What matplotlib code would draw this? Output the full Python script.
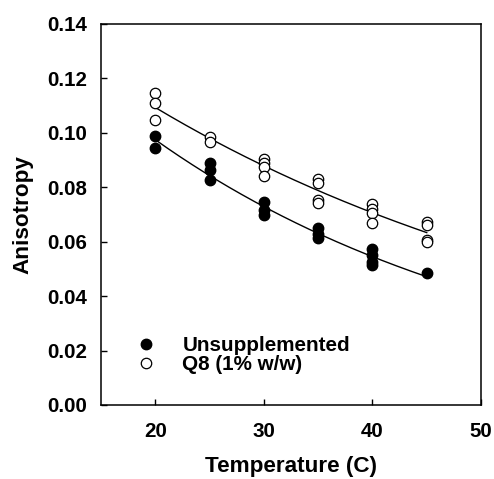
import numpy as np
import matplotlib
matplotlib.use("Agg")
import matplotlib.pyplot as plt

plt.rcParams['font.family'] = ['Liberation Sans', 'DejaVu Sans']
plt.rcParams['font.weight'] = 'bold'

# Data
unsup_T = [20, 20, 25, 25, 25, 30, 30, 30, 35, 35, 35, 40, 40, 40, 40, 45]
unsup_A = [0.0988, 0.0945, 0.0890, 0.0862, 0.0828, 0.0747, 0.0717, 0.0697,
           0.0649, 0.0627, 0.0613, 0.0574, 0.0551, 0.0527, 0.0515, 0.0485]

q8_T = [20, 20, 20, 25, 25, 30, 30, 30, 30, 35, 35, 35, 35, 40, 40, 40, 40, 45, 45, 45, 45]
q8_A = [0.1146, 0.1111, 0.1047, 0.0984, 0.0966, 0.0905, 0.0888, 0.0874, 0.0840,
        0.0829, 0.0815, 0.0755, 0.0742, 0.0738, 0.0722, 0.0705, 0.0670,
        0.0673, 0.0662, 0.0608, 0.0600]

labels = ["Unsupplemented", "Q8 (1% w/w)"]
xticks = [20, 30, 40, 50]
yticks = [0.00, 0.02, 0.04, 0.06, 0.08, 0.10, 0.12, 0.14]

fig = plt.figure(figsize=(4.94, 4.79), dpi=100)
ax = fig.add_axes([0.2045, 0.1545, 0.7692, 0.7954])

def exp_fit(T, A):
    T = np.asarray(T, float); A = np.asarray(A, float)
    b, a = np.polyfit(T, np.log(A), 1)
    xs = np.linspace(min(T), max(T), 200)
    return xs, np.exp(a + b * xs)

for T, A in [(unsup_T, unsup_A), (q8_T, q8_A)]:
    xs, ys = exp_fit(T, A)
    ax.plot(xs, ys, color='black', lw=1.0, zorder=1)

ax.plot(unsup_T, unsup_A, 'o', ms=7.5, mfc='black', mec='black', mew=1.0,
        ls='none', label=labels[0], zorder=3)
ax.plot(q8_T, q8_A, 'o', ms=7.5, mfc='white', mec='black', mew=0.9,
        ls='none', label=labels[1], zorder=3)

ax.set_xlim(15, 50)
ax.set_ylim(0, 0.14)
ax.set_xticks(xticks)
ax.set_yticks(yticks)
ax.set_xticklabels([str(t) for t in xticks])
ax.set_yticklabels([f"{t:.2f}" for t in yticks])
ax.tick_params(direction='in', length=4, width=1, labelsize=14.8,
               top=False, right=False)
ax.tick_params(axis='x', pad=12)
ax.tick_params(axis='y', pad=10)
for s in ax.spines.values():
    s.set_linewidth(1.1)

ax.set_xlabel("Temperature (C)", fontsize=16.2, fontweight='bold', labelpad=11)
ax.set_ylabel("Anisotropy", fontsize=16.2, fontweight='bold', labelpad=10)

leg = ax.legend(loc='lower left', bbox_to_anchor=(0.07, 0.06), frameon=False,
                fontsize=14.9, handletextpad=1.25, labelspacing=0.0,
                borderaxespad=0, handlelength=1.0, markerscale=1.0)

fig.savefig("out.png", dpi=100)
